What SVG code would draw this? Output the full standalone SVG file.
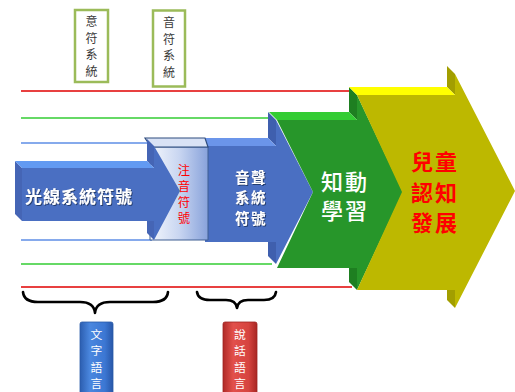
<svg xmlns="http://www.w3.org/2000/svg" width="515" height="392" viewBox="0 0 515 392">
<defs>
<linearGradient id="boxGrad" x1="150" y1="0" x2="208" y2="0" gradientUnits="userSpaceOnUse">
<stop offset="0" stop-color="#F4F7FC"/>
<stop offset="0.5" stop-color="#C9D6F1"/>
<stop offset="1" stop-color="#88A2DB"/>
</linearGradient>
<linearGradient id="blueTag" x1="0" y1="0" x2="1" y2="0">
<stop offset="0" stop-color="#2C5EB0"/>
<stop offset="0.3" stop-color="#4A87DF"/>
<stop offset="0.75" stop-color="#3C77D3"/>
<stop offset="1" stop-color="#2857A8"/>
</linearGradient>
<linearGradient id="redTag" x1="0" y1="0" x2="1" y2="0">
<stop offset="0" stop-color="#B02A27"/>
<stop offset="0.3" stop-color="#E2504B"/>
<stop offset="0.75" stop-color="#D6443F"/>
<stop offset="1" stop-color="#A82623"/>
</linearGradient>
<filter id="shadow" x="-10%" y="-10%" width="130%" height="130%">
<feDropShadow dx="1" dy="1" stdDeviation="0.6" flood-color="#1E2F5A" flood-opacity="0.8"/>
</filter>
</defs>
<style>
.ln{stroke-width:1.3;fill:none}
.red{stroke:#E00000}
.grn{stroke:#33CC33}
.blu{stroke:#5E8EE6}
.brace{fill:none;stroke:#000;stroke-width:2.6;stroke-linecap:round;stroke-linejoin:round}
.cjk{font-family:"Noto Sans CJK TC","Noto Sans CJK SC",sans-serif}
.gbox{fill:#FFFFFF;stroke:#9BBB59;stroke-width:2.5}
.gtxt{fill:#3A3A3A;font-size:12px}
.ttxt{fill:#FFFFFF;font-size:11.8px}
</style>

<g id="connectors">
<line class="ln red" x1="21" y1="91" x2="349" y2="91"/>
<line class="ln grn" x1="21" y1="118" x2="270" y2="118"/>
<line class="ln blu" x1="21" y1="143" x2="150" y2="143"/>
<line class="ln blu" x1="21" y1="240" x2="152" y2="240"/>
<line class="ln grn" x1="21" y1="264" x2="272" y2="264"/>
<line class="ln red" x1="21" y1="287" x2="352" y2="287"/>
<path class="brace" d="M23,292 Q24,302 38,302 L80,302 Q94,302 95,313 Q96,302 110,302 L153,302 Q167,302 168,292"/>
<path class="brace" d="M197,292 Q198,300 210,300 L226,300 Q236,300 237,308 Q238,300 248,300 L264,300 Q275,300 276,292"/>
</g>

<g id="yiFu">
<rect class="gbox" x="75" y="10" width="33" height="72"/>
<text class="cjk gtxt" text-anchor="middle"><tspan x="91.5" y="26">意</tspan><tspan x="91.5" y="42.6">符</tspan><tspan x="91.5" y="59.2">系</tspan><tspan x="91.5" y="75.8">統</tspan></text>
</g>

<g id="yinFu">
<rect class="gbox" x="153" y="10.5" width="32" height="76"/>
<text class="cjk gtxt" text-anchor="middle"><tspan x="169" y="27">音</tspan><tspan x="169" y="43.6">符</tspan><tspan x="169" y="60.2">系</tspan><tspan x="169" y="76.8">統</tspan></text>
</g>

<g id="arrowYinSheng">
<polygon points="268,112 276,120 276,146 268,138" fill="#3F5FAE"/>
<polygon points="268,242 276,242 276,264 268,256" fill="#3F5FAE"/>
<polygon points="197,138 268,138 276,146 205,146" fill="#6B95EA"/>
<polygon points="205,146 276,146 276,120 313,192 276,264 276,242 205,242" fill="#4A6FC2"/>
</g>

<g id="arrowZhiDong">
<polygon points="349,87 357,95 357,120 349,112" fill="#1E7F21"/>
<polygon points="349,268 357,268 357,290 349,282" fill="#1E7F21"/>
<polygon points="269,112 349,112 357,120 277,120" fill="#33CC33"/>
<polygon points="277,120 357,120 357,95 403,192 357,290 357,268 277,268 313,192" fill="#27962A"/>
</g>

<g id="arrowErTong">
<polygon points="447,66 455,74 455,95 447,87" fill="#A29E00"/>
<polygon points="447,290 455,290 455,308 447,300" fill="#A29E00"/>
<polygon points="349,87 447,87 455,95 357,95" fill="#FFFF00"/>
<polygon points="357,95 455,95 455,74 515,191 455,308 455,290 357,290 402,192" fill="#BDB800"/>
</g>

<g id="zhuyinBox">
<polygon points="150,147 208,147 208,240 150,240" fill="url(#boxGrad)" stroke="#3F5F92" stroke-width="1"/>
<polygon points="145,138 205,138 208,147 151,147" fill="#D9E2F5" stroke="#2F4C7E" stroke-width="1.2"/>
</g>

<g id="arrowGuangXian">
<polygon points="15,161 22,168 22,221 15,214" fill="#4565B5"/>
<polygon points="147,139 154,146 154,168 147,161" fill="#4565B5"/>
<polygon points="147,221 154,221 154,240 147,233" fill="#4565B5"/>
<polygon points="15,161 147,161 154,168 22,168" fill="#629AF2"/>
<polygon points="22,168 154,168 154,146 180,191 154,240 154,221 22,221" fill="#4A6FC2"/>
</g>

<g id="labels">
<text class="cjk" x="79" y="203" text-anchor="middle" font-size="17" font-weight="bold" letter-spacing="1" fill="#FFFFFF" filter="url(#shadow)">光線系統符號</text>
<text class="cjk" text-anchor="middle" font-size="12.3" fill="#FF0000"><tspan x="184" y="174.5">注</tspan><tspan x="184" y="190.8">音</tspan><tspan x="184" y="207.1">符</tspan><tspan x="184" y="223.4">號</tspan></text>
<text class="cjk" text-anchor="middle" font-size="14.5" font-weight="bold" letter-spacing="1.5" fill="#FFFFFF" filter="url(#shadow)"><tspan x="251" y="182.5">音聲</tspan><tspan x="251" y="203">系統</tspan><tspan x="251" y="223.5">符號</tspan></text>
<text class="cjk" text-anchor="middle" font-size="22" font-weight="500" letter-spacing="2" fill="#FFFFFF"><tspan x="345" y="190">知動</tspan><tspan x="345" y="219">學習</tspan></text>
<text class="cjk" text-anchor="middle" font-size="22" font-weight="bold" letter-spacing="2" fill="#FF0000"><tspan x="435" y="170">兒童</tspan><tspan x="435" y="200.5">認知</tspan><tspan x="435" y="231">發展</tspan></text>
</g>

<g id="wenZi">
<rect x="80" y="322" width="33" height="76" rx="2" fill="url(#blueTag)" stroke="#2A5AA8" stroke-width="0.8"/>
<text class="cjk ttxt" text-anchor="middle"><tspan x="96.5" y="339">文</tspan><tspan x="96.5" y="355.3">字</tspan><tspan x="96.5" y="371.6">語</tspan><tspan x="96.5" y="387.9">言</tspan></text>
</g>

<g id="shuoHua">
<rect x="223" y="322" width="34" height="76" rx="2" fill="url(#redTag)" stroke="#A02522" stroke-width="0.8"/>
<text class="cjk ttxt" text-anchor="middle"><tspan x="240" y="339">說</tspan><tspan x="240" y="355.3">話</tspan><tspan x="240" y="371.6">語</tspan><tspan x="240" y="387.9">言</tspan></text>
</g>
</svg>
